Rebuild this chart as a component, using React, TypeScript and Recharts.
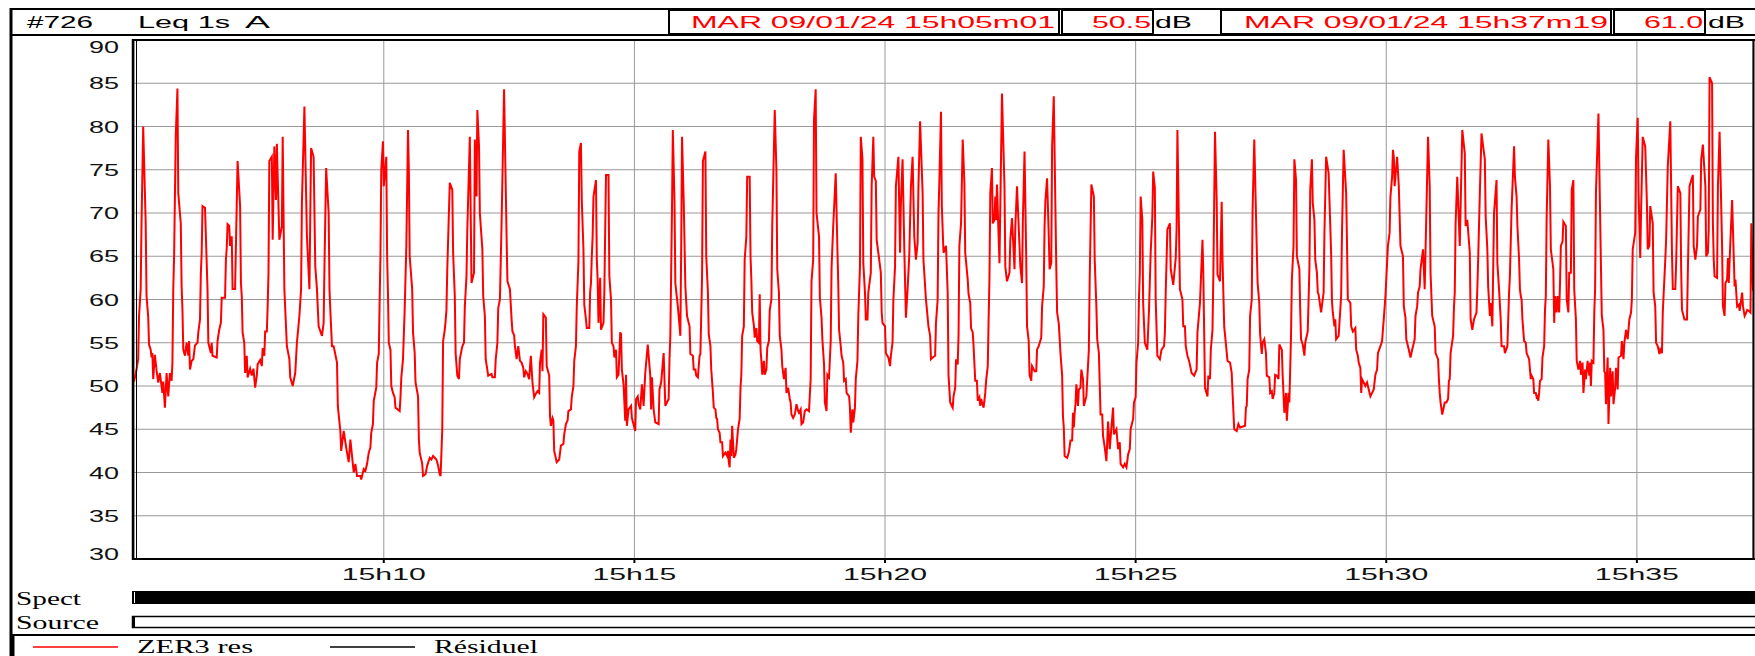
import { LineChart, Line, XAxis, YAxis, CartesianGrid } from "recharts";

// Leq 1s A, seconds elapsed since 15h05m01 -> dB
const START = 15 * 3600 + 5 * 60 + 1;

const seg0510: [number, number][] = [
  [0, 50.5], [3, 51.9], [5, 53.1], [6, 58.0], [8, 61.2], [9, 68.8], [11, 80.0], [14, 68.8], [15, 60.4], [17, 58.0],
  [18, 54.8], [20, 54.2], [21, 53.3], [22, 53.8], [23, 50.8], [25, 53.6], [27, 51.8], [29, 50.4], [31, 51.5], [34, 49.2],
  [35, 50.5], [37, 47.5], [39, 51.5], [41, 48.8], [43, 51.5], [45, 50.6], [46, 52.7], [47, 61.2], [48, 65.0], [50, 79.0],
  [52, 84.4], [53, 72.3], [56, 68.8], [57, 61.5], [58, 58.8], [59, 54.2], [61, 53.5], [63, 55.0], [65, 53.5], [66, 55.2],
  [67, 51.9], [69, 52.9], [71, 53.1], [73, 54.7], [76, 55.0], [77, 56.2], [79, 57.7], [80, 63.0], [81, 65.3], [82, 70.8],
  [85, 70.6], [88, 61.2], [89, 55.0], [92, 53.8], [93, 55.0], [94, 53.5], [99, 53.3], [100, 55.2], [102, 56.5], [104, 57.3],
  [105, 60.2], [109, 60.2], [110, 64.6], [111, 65.9], [112, 68.7], [114, 68.5], [115, 66.2], [117, 67.3], [118, 61.2], [121, 61.2],
  [122, 66.2], [124, 76.0], [127, 70.8], [128, 61.9], [129, 60.4], [130, 56.2], [132, 55.0], [133, 51.5], [135, 53.5], [136, 51.0],
  [139, 52.0], [141, 51.2], [143, 52.0], [145, 49.8], [147, 51.2], [148, 52.5], [151, 53.0], [153, 52.3], [154, 54.4], [156, 53.5],
  [157, 56.3], [159, 56.3], [160, 59.2], [161, 63.1], [162, 76.0], [165, 76.5], [166, 66.9], [168, 77.7], [170, 71.5], [171, 78.0],
  [174, 66.9], [177, 68.5], [178, 78.8], [180, 61.2], [183, 54.6], [186, 53.1], [187, 51.0], [190, 50.0], [193, 51.5], [195, 55.0],
  [198, 58.1], [200, 61.2], [201, 71.2], [204, 82.3], [207, 67.3], [210, 61.2], [211, 69.6], [212, 77.5], [215, 76.5], [217, 63.8],
  [219, 61.2], [221, 56.9], [225, 55.8], [227, 57.3], [228, 63.8], [230, 75.2], [233, 70.0], [234, 61.2], [235, 58.8], [237, 54.6],
  [239, 54.6], [243, 52.7], [244, 47.7], [245, 46.7], [247, 44.8], [248, 42.5], [251, 44.8], [253, 43.5], [255, 42.3], [257, 41.2],
  [259, 43.8], [261, 41.9], [263, 40.0], [265, 41.0], [267, 39.6], [271, 39.6], [272, 39.2], [275, 40.4], [277, 40.2], [279, 41.0],
  [281, 42.3], [283, 42.9], [284, 44.6], [286, 45.6], [287, 48.3], [290, 49.8], [291, 52.7], [293, 53.7], [294, 59.6], [295, 65.0],
  [296, 75.0], [298, 78.3], [299, 73.1], [302, 76.5], [303, 65.0], [304, 60.8], [305, 55.0], [307, 54.2], [308, 50.0], [310, 49.2],
  [312, 48.7], [313, 47.5], [318, 47.1], [319, 48.7], [320, 51.0], [322, 53.1], [324, 58.8], [326, 66.2], [328, 79.6],
];

const seg1015: [number, number][] = [
  [329, 75.0], [330, 65.0], [333, 61.2], [334, 56.2], [336, 53.8], [337, 50.4], [340, 48.8], [341, 43.8], [342, 42.3], [345, 41.0],
  [346, 39.6], [349, 39.8], [351, 40.8], [354, 41.7], [356, 41.5], [358, 41.9], [360, 41.7], [362, 41.5], [364, 40.8], [366, 39.8],
  [367, 39.6], [369, 45.0], [370, 55.2], [372, 56.5], [373, 57.5], [374, 58.8], [375, 63.5], [378, 73.5], [381, 72.7], [382, 65.4],
  [384, 60.4], [385, 53.8], [387, 51.2], [389, 50.8], [390, 53.1], [393, 54.6], [395, 55.0], [396, 59.2], [398, 62.7], [399, 68.1],
  [402, 78.8], [404, 61.9], [407, 63.1], [408, 78.5], [410, 71.9], [411, 81.9], [413, 77.7], [414, 70.0], [417, 65.8], [418, 60.4],
  [420, 58.1], [421, 53.1], [424, 51.2], [428, 51.4], [429, 51.0], [432, 51.0], [433, 53.1], [435, 55.0], [436, 59.0], [438, 60.0],
  [440, 68.8], [443, 84.3], [446, 67.3], [447, 62.1], [450, 61.2], [452, 57.7], [453, 56.3], [455, 55.9], [456, 54.6], [458, 53.1],
  [460, 54.6], [462, 52.9], [464, 52.7], [466, 52.1], [467, 51.0], [469, 51.7], [471, 51.4], [473, 50.8], [475, 53.5], [477, 50.4],
  [479, 48.7], [481, 49.1], [483, 49.4], [485, 49.2], [486, 52.7], [488, 54.2], [489, 51.7], [490, 58.3], [493, 57.9], [494, 52.3],
  [497, 51.2], [498, 46.5], [499, 45.4], [501, 46.3], [502, 46.0], [503, 42.5], [506, 41.2], [509, 41.5], [511, 43.1], [514, 43.3],
  [515, 44.4], [517, 45.6], [519, 46.0], [520, 47.1], [523, 47.3], [524, 48.7], [526, 50.0], [527, 52.9], [529, 54.6], [530, 59.2],
  [532, 64.4], [533, 77.1], [535, 78.1], [536, 71.5], [538, 65.8], [539, 59.4], [541, 57.7], [542, 56.7], [545, 56.7], [546, 60.8],
  [547, 61.9], [548, 65.0], [549, 67.3], [550, 71.9], [553, 73.8], [554, 64.6], [555, 62.3], [556, 57.3], [558, 62.5], [559, 56.5],
  [562, 57.3], [563, 60.8], [565, 74.4], [568, 74.4], [569, 62.7], [571, 60.0], [572, 55.0], [574, 54.6], [575, 53.3], [577, 54.2],
  [578, 51.0], [580, 51.3], [582, 56.2], [583, 56.0], [584, 51.9], [586, 50.2], [588, 46.0], [589, 51.3], [590, 45.4], [592, 47.3],
  [595, 47.7], [596, 46.3], [600, 44.8], [601, 48.5], [603, 48.8], [604, 47.9], [606, 47.3], [608, 50.2], [610, 47.7], [612, 51.5],
  [615, 54.8], [618, 51.2], [619, 47.3], [620, 51.0], [622, 47.3], [624, 45.8], [628, 45.6], [629, 49.6], [631, 50.4], [634, 53.8],
  [636, 47.7], [640, 48.5], [641, 53.1], [642, 55.8], [644, 70.4], [645, 79.6], [647, 71.2], [648, 61.9], [651, 59.2], [654, 55.8],
  [655, 65.8], [656, 78.8],
];

const seg1520: [number, number][] = [
  [658, 71.5], [660, 61.5], [662, 58.1], [665, 56.9], [666, 53.7], [669, 53.5], [670, 51.9], [672, 51.9], [673, 51.2], [675, 51.0],
  [677, 53.5], [678, 53.7], [680, 62.7], [681, 76.0], [684, 77.1], [685, 65.0], [687, 60.8], [688, 56.0], [690, 54.6], [691, 51.9],
  [693, 49.2], [694, 47.5], [696, 47.3], [697, 46.3], [698, 46.2], [699, 45.0], [701, 44.6], [702, 43.5], [704, 43.5], [705, 41.9],
  [708, 42.3], [710, 41.9], [711, 42.5], [712, 41.2], [713, 40.6], [714, 43.8], [715, 41.9], [716, 45.4], [718, 41.7], [720, 42.1],
  [721, 42.7], [723, 45.0], [725, 46.2], [726, 49.8], [727, 51.3], [728, 55.8], [730, 56.9], [731, 64.6], [733, 67.3], [734, 74.2],
  [737, 74.2], [738, 65.0], [739, 62.3], [740, 58.5], [742, 57.0], [743, 55.6], [745, 56.7], [746, 55.2], [748, 55.0], [749, 60.6],
  [750, 54.2], [751, 52.9], [752, 51.3], [754, 52.9], [755, 51.3], [757, 51.9], [758, 54.4], [760, 55.2], [761, 58.8], [763, 60.0],
  [764, 68.5], [767, 81.9], [769, 75.0], [770, 63.5], [772, 60.8], [773, 55.8], [775, 54.2], [776, 52.3], [778, 50.8], [780, 52.1],
  [781, 49.2], [783, 49.8], [785, 48.5], [786, 48.1], [787, 46.7], [789, 46.3], [791, 46.7], [793, 47.9], [795, 47.1], [796, 46.9],
  [798, 47.3], [799, 45.6], [801, 45.8], [803, 47.1], [805, 47.3], [808, 47.1], [810, 50.8], [811, 62.1], [813, 64.6], [814, 80.8],
  [816, 84.3], [817, 70.0], [820, 67.3], [821, 60.2], [823, 57.9], [824, 55.4], [826, 52.5], [827, 48.1], [829, 47.1], [830, 51.3],
  [832, 51.0], [834, 55.2], [835, 63.7], [837, 68.5], [840, 74.6], [842, 65.8], [843, 61.9], [844, 56.5], [846, 54.6], [847, 53.5],
  [849, 52.7], [850, 50.6], [852, 50.8], [853, 49.2], [856, 48.8], [857, 47.5], [858, 44.6], [860, 47.3], [861, 45.8], [863, 47.5],
  [864, 50.8], [866, 52.9], [867, 58.1], [869, 63.8], [870, 78.8], [872, 76.2], [873, 64.2], [875, 60.8], [876, 57.7], [878, 57.7],
  [879, 60.8], [882, 63.1], [883, 73.1], [885, 78.8], [886, 74.2], [888, 73.7], [889, 66.9], [891, 65.4], [894, 63.1], [895, 58.5],
  [896, 57.3], [899, 56.9], [900, 53.8], [903, 53.3], [905, 52.3], [906, 53.5], [908, 55.0], [909, 60.0], [911, 63.8], [912, 73.1],
  [915, 76.5], [916, 70.8], [917, 65.4], [918, 71.2], [920, 76.2], [922, 66.2], [924, 57.9], [926, 61.2], [928, 65.0], [930, 73.1],
  [932, 76.5], [934, 67.3], [936, 64.6], [938, 66.5], [939, 73.1], [941, 80.6], [944, 72.3], [945, 64.6], [948, 60.0], [951, 56.9],
  [953, 55.8], [954, 53.1], [956, 53.3], [959, 53.5], [960, 57.3], [962, 60.0], [963, 70.0], [964, 73.5], [966, 81.7], [967, 70.8],
  [969, 65.4], [972, 66.2], [974, 60.8], [975, 51.2], [977, 48.1], [980, 47.5], [981, 48.8], [983, 49.8], [984, 53.1], [986, 52.5],
  [987, 55.8], [988, 66.2],
];

const seg2025: [number, number][] = [
  [990, 68.8], [992, 78.5], [994, 73.5], [995, 65.4], [998, 62.3], [999, 60.6], [1001, 59.6], [1002, 56.7], [1004, 56.2], [1005, 54.6],
  [1007, 50.6], [1009, 50.6], [1010, 48.3], [1012, 48.7], [1013, 47.7], [1014, 48.5], [1017, 47.5], [1019, 49.2], [1020, 50.6], [1022, 52.3],
  [1023, 57.7], [1024, 62.3], [1025, 72.3], [1027, 75.2], [1028, 68.8], [1030, 69.2], [1031, 71.9], [1032, 69.2], [1033, 73.3], [1036, 64.2],
  [1039, 83.8], [1042, 73.1], [1043, 63.8], [1045, 62.1], [1048, 63.1], [1049, 66.9], [1051, 69.4], [1054, 63.5], [1055, 68.5], [1057, 73.1],
  [1061, 63.8], [1063, 61.9], [1064, 69.2], [1066, 77.1], [1068, 65.0], [1069, 56.9], [1071, 55.2], [1072, 51.3], [1074, 50.6], [1075, 52.3],
  [1078, 51.7], [1080, 51.7], [1081, 54.2], [1083, 54.6], [1086, 55.6], [1087, 59.2], [1089, 61.5], [1090, 68.5], [1091, 71.5], [1093, 74.0],
  [1095, 67.3], [1096, 63.5], [1098, 64.2], [1099, 77.7], [1101, 83.5], [1104, 63.8], [1105, 58.5], [1107, 57.2], [1109, 53.8], [1111, 51.2],
  [1112, 46.5], [1113, 45.2], [1114, 41.9], [1117, 41.7], [1119, 42.3], [1121, 43.7], [1123, 43.7], [1124, 46.9], [1125, 45.2], [1126, 46.9],
  [1127, 47.9], [1128, 50.2], [1130, 47.7], [1131, 49.6], [1133, 49.8], [1134, 51.9], [1136, 50.8], [1137, 47.7], [1140, 48.8], [1143, 54.2],
  [1144, 62.3], [1146, 73.3], [1149, 71.9], [1150, 64.6], [1152, 59.2], [1153, 55.4], [1155, 53.8], [1157, 46.7], [1159, 46.7], [1160, 44.2],
  [1162, 42.9], [1164, 41.3], [1166, 45.9], [1168, 42.7], [1170, 45.2], [1172, 47.5], [1173, 44.4], [1176, 45.0], [1178, 42.7], [1180, 43.5],
  [1181, 41.0], [1184, 40.6], [1186, 41.0], [1188, 40.6], [1190, 42.1], [1192, 42.7], [1193, 45.0], [1196, 46.2], [1197, 48.1], [1199, 48.7],
  [1200, 52.7], [1202, 55.0], [1203, 60.2], [1204, 63.1], [1205, 71.9], [1207, 69.2], [1208, 59.6], [1210, 55.0], [1213, 54.2], [1215, 58.8],
  [1217, 65.4], [1219, 69.6], [1220, 74.8], [1222, 72.9], [1223, 60.0], [1225, 53.5], [1228, 53.1], [1230, 54.2], [1233, 54.6], [1234, 56.2],
  [1235, 60.8], [1237, 68.1], [1240, 68.8], [1241, 63.5], [1244, 61.7], [1247, 64.8], [1248, 68.1], [1249, 79.6], [1252, 61.2], [1255, 60.0],
  [1256, 56.9], [1258, 56.9], [1259, 54.6], [1261, 53.5], [1263, 52.9], [1266, 51.5], [1269, 51.2], [1272, 51.9], [1273, 56.2], [1276, 59.6],
  [1279, 66.9], [1280, 63.1], [1282, 49.8], [1285, 48.8], [1286, 51.2], [1288, 50.8], [1289, 54.2], [1291, 56.5], [1292, 62.7], [1293, 71.2],
  [1294, 79.4], [1296, 71.5], [1297, 62.9], [1300, 62.1], [1302, 71.3], [1303, 64.6], [1305, 56.9], [1309, 52.9], [1312, 52.7], [1314, 51.5],
  [1315, 49.2], [1317, 45.0],
];

const seg2530: [number, number][] = [
  [1320, 44.8], [1322, 45.6], [1324, 45.2], [1330, 45.4], [1331, 47.5], [1332, 47.7], [1333, 50.8], [1335, 51.9], [1336, 58.1], [1338, 60.0],
  [1339, 70.4], [1341, 78.5], [1344, 65.8], [1345, 61.9], [1347, 59.6], [1348, 56.0], [1350, 53.7], [1351, 55.0], [1353, 55.4], [1355, 53.8],
  [1356, 51.2], [1359, 51.0], [1360, 49.2], [1362, 49.4], [1363, 48.5], [1365, 49.2], [1366, 51.3], [1368, 51.2], [1370, 50.8], [1371, 54.8],
  [1374, 54.2], [1375, 51.2], [1377, 46.9], [1379, 49.2], [1380, 46.0], [1382, 49.2], [1383, 48.1], [1384, 51.9], [1385, 55.8], [1386, 62.3],
  [1388, 66.2], [1389, 76.2], [1391, 73.8], [1392, 65.0], [1395, 63.5], [1396, 58.8], [1397, 55.4], [1399, 54.8], [1401, 53.5], [1402, 55.0],
  [1405, 56.3], [1407, 63.5], [1408, 72.7], [1410, 76.2], [1411, 71.2], [1413, 69.2], [1414, 64.6], [1416, 63.1], [1417, 60.8], [1418, 60.6],
  [1421, 58.5], [1424, 60.8], [1425, 67.7], [1427, 76.5], [1430, 74.6], [1433, 65.4], [1434, 59.8], [1435, 58.5], [1437, 56.9], [1438, 57.7],
  [1439, 55.4], [1442, 55.8], [1445, 60.4], [1446, 67.7], [1448, 77.3], [1451, 72.3], [1452, 66.5], [1453, 60.0], [1456, 59.6], [1457, 56.9],
  [1459, 56.3], [1462, 56.7], [1463, 54.2], [1465, 53.5], [1466, 52.7], [1468, 52.1], [1469, 49.2], [1470, 50.8], [1472, 50.4], [1474, 50.0],
  [1476, 50.4], [1478, 49.6], [1480, 48.8], [1484, 49.6], [1486, 51.3], [1488, 51.9], [1489, 53.8], [1492, 54.6], [1494, 55.2], [1495, 56.5],
  [1496, 57.7], [1498, 60.4], [1499, 62.3], [1501, 66.2], [1503, 67.7], [1504, 71.9], [1506, 74.2], [1507, 77.3], [1508, 76.5], [1509, 73.1],
  [1512, 76.5], [1514, 73.1], [1516, 66.2], [1519, 65.0], [1520, 59.2], [1522, 57.9], [1523, 55.4], [1526, 54.2], [1528, 53.3], [1530, 54.2],
  [1533, 55.4], [1534, 58.1], [1536, 59.2], [1537, 60.8], [1539, 61.5], [1540, 63.5], [1543, 65.8], [1545, 61.2], [1547, 70.0], [1549, 78.8],
  [1551, 73.1], [1552, 63.1], [1554, 58.1], [1557, 56.9], [1558, 53.8], [1561, 53.1], [1562, 50.8], [1563, 49.2], [1564, 48.1], [1566, 46.7],
  [1569, 48.1], [1571, 48.1], [1573, 48.5], [1574, 50.6], [1575, 50.8], [1576, 53.8], [1579, 55.8], [1580, 59.0], [1581, 60.8], [1582, 68.8],
  [1584, 74.2], [1587, 66.2], [1590, 79.6], [1593, 76.9], [1594, 68.5], [1596, 69.2], [1599, 65.4], [1600, 57.7], [1602, 56.5], [1604, 57.7],
  [1607, 58.5], [1608, 61.2], [1609, 64.6], [1611, 72.3], [1613, 79.2], [1617, 76.2], [1618, 69.6], [1620, 65.8], [1621, 61.5], [1623, 58.1],
  [1624, 59.6], [1626, 56.9], [1628, 70.0], [1631, 73.8], [1632, 64.2], [1634, 61.2], [1636, 57.7], [1637, 54.6], [1640, 54.6], [1641, 53.8],
  [1644, 54.6], [1646, 60.8], [1647, 62.7],
];

const seg3537: [number, number][] = [
  [1649, 70.4], [1652, 77.7], [1653, 74.2], [1655, 71.9], [1656, 68.5], [1658, 64.6], [1659, 61.2], [1660, 60.4], [1661, 60.0], [1662, 57.7],
  [1664, 55.2], [1666, 55.0], [1667, 53.8], [1670, 53.1], [1671, 51.9], [1672, 50.8], [1673, 51.2], [1675, 50.8], [1676, 49.2], [1678, 49.2],
  [1679, 48.7], [1680, 48.8], [1681, 48.3], [1682, 49.2], [1683, 50.6], [1685, 50.8], [1686, 53.3], [1688, 54.6], [1689, 58.8], [1690, 60.4],
  [1691, 69.6], [1693, 78.5], [1695, 73.1], [1696, 65.8], [1699, 63.5], [1700, 57.3], [1701, 60.4], [1703, 58.5], [1704, 60.4], [1706, 58.5],
  [1707, 61.9], [1708, 66.2], [1710, 66.7], [1711, 69.0], [1714, 68.5], [1715, 60.0], [1717, 58.5], [1718, 63.1], [1720, 63.1], [1721, 72.7],
  [1723, 73.8], [1724, 61.2], [1726, 57.7], [1727, 52.9], [1729, 51.9], [1731, 52.9], [1732, 51.3], [1734, 52.7], [1735, 49.2], [1737, 51.9],
  [1738, 50.8], [1740, 52.9], [1742, 51.2], [1743, 52.7], [1744, 50.0], [1745, 52.9], [1747, 52.7], [1748, 58.5], [1749, 61.2], [1750, 72.3],
  [1753, 81.5], [1756, 63.8], [1757, 58.1], [1759, 56.5], [1760, 51.7], [1761, 51.5], [1762, 47.9], [1763, 50.8], [1764, 53.3], [1765, 45.6],
  [1767, 52.1], [1768, 48.8], [1770, 51.7], [1771, 47.9], [1773, 49.8], [1774, 52.1], [1776, 49.6], [1777, 53.3], [1780, 53.5], [1781, 55.2],
  [1783, 53.1], [1784, 55.0], [1786, 56.5], [1788, 55.4], [1790, 57.7], [1792, 58.5], [1793, 60.0], [1794, 65.8], [1797, 67.7], [1798, 76.5],
  [1800, 81.0], [1801, 72.3], [1803, 64.8], [1804, 70.0], [1806, 78.8], [1809, 77.7], [1811, 71.2], [1812, 65.8], [1814, 66.2], [1815, 70.8],
  [1818, 68.8], [1819, 60.8], [1821, 59.2], [1822, 55.0], [1824, 54.6], [1826, 53.7], [1827, 54.2], [1829, 53.8], [1830, 58.5], [1833, 64.6],
  [1834, 66.9], [1836, 75.4], [1839, 80.6], [1841, 65.4], [1842, 61.2], [1845, 61.2], [1846, 64.2], [1848, 73.1], [1851, 72.3], [1852, 63.5],
  [1853, 58.8], [1856, 57.7], [1859, 57.7], [1860, 63.1], [1862, 73.1], [1866, 74.4], [1867, 66.2], [1869, 64.6], [1871, 66.2], [1872, 69.6],
  [1875, 70.4], [1876, 76.2], [1878, 77.9], [1881, 73.1], [1882, 65.0], [1884, 65.4], [1885, 68.1], [1886, 85.7], [1889, 85.0], [1890, 68.8],
  [1891, 64.6], [1892, 62.7], [1895, 62.5], [1896, 73.1], [1898, 79.4], [1901, 66.2], [1902, 59.2], [1904, 58.1], [1905, 61.9], [1907, 62.3],
  [1908, 64.8], [1909, 61.9], [1911, 66.9], [1913, 71.5], [1916, 61.5], [1917, 62.3], [1919, 59.2], [1921, 59.4], [1922, 58.7], [1925, 60.8],
  [1926, 59.2], [1928, 58.1], [1930, 58.5], [1931, 58.8], [1933, 58.7], [1935, 58.5], [1936, 68.8], [1938, 61.0],
];

const END_SECONDS = 1938;
const tickLabels = ["15h10", "15h15", "15h20", "15h25", "15h30", "15h35"];
const tickSeconds = tickLabels.map((l) => {
  const [h, m] = l.split("h").map(Number);
  return h * 3600 + m * 60 - START;
});
const yTicks = [30, 35, 40, 45, 50, 55, 60, 65, 70, 75, 80, 85, 90];

const data = [...seg0510, ...seg1015, ...seg1520, ...seg2025, ...seg2530, ...seg3537].map(([t, v]) => ({ t, v }));

const SANS = "'Liberation Sans', Arial, sans-serif";
const SERIF = "'Liberation Serif', 'Times New Roman', serif";

function YTick(props: any) {
  const { x, y, payload } = props;
  const v = payload.value;
  const shift = v === 90 ? 7 : v === 30 ? -5 : 0;
  return (
    <text x={x - 37} y={y + shift + 6} fontSize={16} fontFamily={SANS} fill="#111" textLength={30} lengthAdjust="spacingAndGlyphs">
      {v}
    </text>
  );
}

function XTick(props: any) {
  const { x, y, index } = props;
  return (
    <text x={x - 42} y={y + 15} fontSize={16} fontFamily={SANS} fill="#111" textLength={84} lengthAdjust="spacingAndGlyphs">
      {tickLabels[index]}
    </text>
  );
}

function Txt({ x, y, w, size, fill = "#000", family = SANS, children }: any) {
  return (
    <text x={x} y={y} fontSize={size} fontFamily={family} fill={fill} textLength={w} lengthAdjust="spacingAndGlyphs">
      {children}
    </text>
  );
}

export default function App() {
  return (
    <div style={{ position: "absolute", left: 0, top: 0, width: 1755, height: 656, background: "#fff", overflow: "hidden" }}>
      <LineChart width={1755} height={656} data={data} margin={{ top: 40, right: 2, bottom: 0, left: 0 }}>
        <CartesianGrid stroke="#999" strokeWidth={1} />
        <XAxis
          type="number"
          dataKey="t"
          domain={[0, END_SECONDS]}
          ticks={tickSeconds}
          interval={0}
          height={97}
          axisLine={false}
          tickSize={4}
          tickLine={{ stroke: "#000", strokeWidth: 2 }}
          tick={XTick}
        />
        <YAxis
          type="number"
          domain={[30, 90]}
          ticks={yTicks}
          interval={0}
          width={134}
          axisLine={false}
          tickLine={false}
          tick={YTick}
        />
        <Line type="linear" dataKey="v" stroke="#ff0000" strokeWidth={2} dot={false} isAnimationActive={false} />
      </LineChart>

      <svg width={1755} height={656} style={{ position: "absolute", left: 0, top: 0, pointerEvents: "none" }}>
        {/* header row */}
        <line x1={10} y1={9} x2={1755} y2={9} stroke="#000" strokeWidth={2} />
        <line x1={10} y1={35} x2={1755} y2={35} stroke="#000" strokeWidth={2} />
        <line x1={11} y1={8} x2={11} y2={656} stroke="#000" strokeWidth={3} />
        <Txt x={27} y={28} w={66} size={16}>#726</Txt>
        <Txt x={138} y={28} w={92} size={16}>Leq 1s</Txt>
        <Txt x={245} y={28} w={25} size={16}>A</Txt>
        <rect x={669} y={10} width={390} height={24} fill="none" stroke="#000" strokeWidth={2} />
        <Txt x={691} y={28} w={364} size={17} fill="#ff0000">MAR 09/01/24 15h05m01</Txt>
        <rect x={1062} y={10} width={91} height={24} fill="none" stroke="#000" strokeWidth={2} />
        <Txt x={1092} y={28} w={59} size={17} fill="#ff0000">50.5</Txt>
        <Txt x={1155} y={28} w={37} size={17}>dB</Txt>
        <rect x={1221} y={10} width={390} height={24} fill="none" stroke="#000" strokeWidth={2} />
        <Txt x={1244} y={28} w={364} size={17} fill="#ff0000">MAR 09/01/24 15h37m19</Txt>
        <rect x={1614} y={10} width={91} height={24} fill="none" stroke="#000" strokeWidth={2} />
        <Txt x={1644} y={28} w={59} size={17} fill="#ff0000">61.0</Txt>
        <Txt x={1708} y={28} w={37} size={17}>dB</Txt>

        {/* plot frame */}
        <line x1={132} y1={40} x2={1755} y2={40} stroke="#000" strokeWidth={2} />
        <line x1={132} y1={559} x2={1755} y2={559} stroke="#000" strokeWidth={2} />
        <line x1={133} y1={39} x2={133} y2={560} stroke="#000" strokeWidth={2.5} />
        <line x1={136.5} y1={40} x2={136.5} y2={559} stroke="#000" strokeWidth={1} />
        <line x1={1753.5} y1={39} x2={1753.5} y2={560} stroke="#000" strokeWidth={2} />

        {/* Spect / Source rows */}
        <Txt x={16} y={605} w={65} size={18} family={SERIF}>Spect</Txt>
        <rect x={132} y={591} width={1623} height={13} fill="#000" />
        <line x1={134.5} y1={592} x2={134.5} y2={603} stroke="#fff" strokeWidth={1} />
        <Txt x={16} y={629} w={83} size={18} family={SERIF}>Source</Txt>
        <rect x={132.5} y={616.5} width={1624} height={11} fill="#fff" stroke="#000" strokeWidth={1.5} />
        <rect x={132} y={616} width={3} height={12} fill="#000" />

        {/* legend */}
        <line x1={10} y1={635} x2={1755} y2={635} stroke="#000" strokeWidth={2} />
        <line x1={13} y1={635} x2={13} y2={656} stroke="#000" strokeWidth={3} />
        <line x1={33} y1={647} x2={118} y2={647} stroke="#ff0000" strokeWidth={1.5} />
        <Txt x={137} y={653} w={116} size={18} family={SERIF}>ZER3 res</Txt>
        <line x1={330} y1={647} x2={415} y2={647} stroke="#000" strokeWidth={1.5} />
        <Txt x={434} y={653} w={104} size={18} family={SERIF}>Résiduel</Txt>
      </svg>
    </div>
  );
}
